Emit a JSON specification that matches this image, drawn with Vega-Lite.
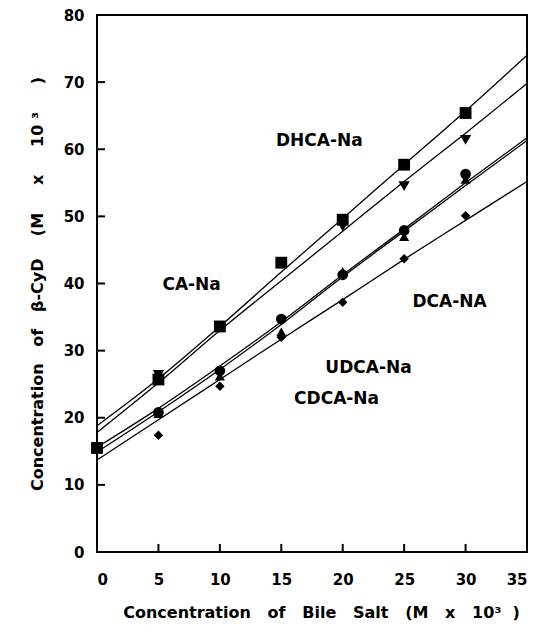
{
  "$schema": "https://vega.github.io/schema/vega-lite/v6.json",
  "width": 430,
  "height": 537,
  "autosize": "none",
  "padding": {"left": 97, "top": 15, "right": 13, "bottom": 89},
  "background": "white",
  "config": {
    "view": {"stroke": "black", "strokeWidth": 2},
    "font": "DejaVu Sans",
    "axis": {
      "grid": false,
      "domain": false,
      "tickColor": "black",
      "tickWidth": 1.5,
      "labelColor": "black",
      "labelFont": "DejaVu Sans",
      "labelFontWeight": "bold",
      "labelFontSize": 15,
      "titleColor": "black",
      "titleFont": "DejaVu Sans",
      "titleFontWeight": "bold",
      "titleFontSize": 16
    }
  },
  "datasets": {
    "points": [
      {"series": "DHCA-Na", "x": 0, "y": 15.5},
      {"series": "DHCA-Na", "x": 5, "y": 25.7},
      {"series": "DHCA-Na", "x": 10, "y": 33.6},
      {"series": "DHCA-Na", "x": 15, "y": 43.1},
      {"series": "DHCA-Na", "x": 20, "y": 49.5},
      {"series": "DHCA-Na", "x": 25, "y": 57.7},
      {"series": "DHCA-Na", "x": 30, "y": 65.4},
      {"series": "CA-Na", "x": 5, "y": 26.4},
      {"series": "CA-Na", "x": 10, "y": 33.4},
      {"series": "CA-Na", "x": 20, "y": 48.5},
      {"series": "CA-Na", "x": 25, "y": 54.5},
      {"series": "CA-Na", "x": 30, "y": 61.4},
      {"series": "UDCA-Na", "x": 5, "y": 20.8},
      {"series": "UDCA-Na", "x": 10, "y": 27.0},
      {"series": "UDCA-Na", "x": 15, "y": 34.7},
      {"series": "UDCA-Na", "x": 20, "y": 41.3},
      {"series": "UDCA-Na", "x": 25, "y": 47.9},
      {"series": "UDCA-Na", "x": 30, "y": 56.3},
      {"series": "CDCA-Na", "x": 5, "y": 20.6},
      {"series": "CDCA-Na", "x": 10, "y": 26.2},
      {"series": "CDCA-Na", "x": 15, "y": 32.8},
      {"series": "CDCA-Na", "x": 20, "y": 41.8},
      {"series": "CDCA-Na", "x": 25, "y": 47.0},
      {"series": "CDCA-Na", "x": 30, "y": 55.5},
      {"series": "DCA-NA", "x": 5, "y": 17.4},
      {"series": "DCA-NA", "x": 10, "y": 24.7},
      {"series": "DCA-NA", "x": 15, "y": 32.0},
      {"series": "DCA-NA", "x": 20, "y": 37.2},
      {"series": "DCA-NA", "x": 25, "y": 43.7},
      {"series": "DCA-NA", "x": 30, "y": 50.1}
    ],
    "lines": [
      {"series": "DHCA-Na", "x": 0, "y": 18.8},
      {"series": "DHCA-Na", "x": 5, "y": 25.8},
      {"series": "DHCA-Na", "x": 10, "y": 33.6},
      {"series": "DHCA-Na", "x": 15, "y": 41.7},
      {"series": "DHCA-Na", "x": 20, "y": 49.7},
      {"series": "DHCA-Na", "x": 25, "y": 57.7},
      {"series": "DHCA-Na", "x": 30, "y": 65.7},
      {"series": "DHCA-Na", "x": 35, "y": 74.0},
      {"series": "CA-Na", "x": 0, "y": 17.8},
      {"series": "CA-Na", "x": 5, "y": 25.2},
      {"series": "CA-Na", "x": 10, "y": 33.0},
      {"series": "CA-Na", "x": 15, "y": 40.4},
      {"series": "CA-Na", "x": 20, "y": 47.8},
      {"series": "CA-Na", "x": 25, "y": 55.2},
      {"series": "CA-Na", "x": 30, "y": 62.4},
      {"series": "CA-Na", "x": 35, "y": 69.8},
      {"series": "UDCA-Na", "x": 0, "y": 15.6},
      {"series": "UDCA-Na", "x": 5, "y": 21.4},
      {"series": "UDCA-Na", "x": 10, "y": 27.7},
      {"series": "UDCA-Na", "x": 15, "y": 34.3},
      {"series": "UDCA-Na", "x": 20, "y": 41.3},
      {"series": "UDCA-Na", "x": 25, "y": 48.1},
      {"series": "UDCA-Na", "x": 30, "y": 55.0},
      {"series": "UDCA-Na", "x": 35, "y": 61.7},
      {"series": "CDCA-Na", "x": 0, "y": 14.9},
      {"series": "CDCA-Na", "x": 5, "y": 20.9},
      {"series": "CDCA-Na", "x": 10, "y": 27.2},
      {"series": "CDCA-Na", "x": 15, "y": 33.9},
      {"series": "CDCA-Na", "x": 20, "y": 41.0},
      {"series": "CDCA-Na", "x": 25, "y": 47.8},
      {"series": "CDCA-Na", "x": 30, "y": 54.6},
      {"series": "CDCA-Na", "x": 35, "y": 61.3},
      {"series": "DCA-NA", "x": 0, "y": 13.7},
      {"series": "DCA-NA", "x": 5, "y": 19.7},
      {"series": "DCA-NA", "x": 10, "y": 25.7},
      {"series": "DCA-NA", "x": 15, "y": 31.7},
      {"series": "DCA-NA", "x": 20, "y": 37.6},
      {"series": "DCA-NA", "x": 25, "y": 43.6},
      {"series": "DCA-NA", "x": 30, "y": 49.4},
      {"series": "DCA-NA", "x": 35, "y": 55.2}
    ],
    "labels": [
      {"label": "DHCA-Na", "x": 18.1, "y": 61.2},
      {"label": "CA-Na", "x": 7.7, "y": 39.8},
      {"label": "DCA-NA", "x": 28.7, "y": 37.3},
      {"label": "UDCA-Na", "x": 22.1, "y": 27.4},
      {"label": "CDCA-Na", "x": 19.5, "y": 22.8}
    ],
    "xticks": [{"v": 5}, {"v": 10}, {"v": 15}, {"v": 20}, {"v": 25}, {"v": 30}],
    "yticks": [{"v": 10}, {"v": 20}, {"v": 30}, {"v": 40}, {"v": 50}, {"v": 60}, {"v": 70}]
  },
  "resolve": {"axis": {"x": "independent", "y": "independent"}},
  "layer": [
    {
      "data": {"name": "lines"},
      "mark": {"type": "line", "color": "black", "strokeWidth": 1.3, "interpolate": "monotone"},
      "encoding": {
        "x": {
          "field": "x", "type": "quantitative",
          "scale": {"domain": [0, 35], "nice": false},
          "axis": {"orient": "bottom", "values": [0, 5, 10, 15, 20, 25, 30, 35], "tickSize": 0, "labelPadding": 20, "title": "Concentration\u00a0\u00a0\u00a0of\u00a0\u00a0\u00a0Bile\u00a0\u00a0\u00a0Salt\u00a0\u00a0\u00a0(M\u00a0\u00a0\u00a0x\u00a0\u00a0\u00a010³\u00a0\u00a0)", "titlePadding": 17, "titleX": 224}
        },
        "y": {
          "field": "y", "type": "quantitative",
          "scale": {"domain": [0, 80], "nice": false},
          "axis": {"orient": "left", "values": [0, 10, 20, 30, 40, 50, 60, 70, 80], "tickSize": 0, "labelPadding": 13, "title": "Concentration\u00a0\u00a0\u00a0of\u00a0\u00a0\u00a0β-CyD\u00a0\u00a0\u00a0\u00a0(M\u00a0\u00a0\u00a0\u00a0\u00a0x\u00a0\u00a0\u00a0\u00a0\u00a010\u00a0³\u00a0\u00a0\u00a0\u00a0\u00a0)", "titlePadding": 18}
        },
        "detail": {"field": "series"}
      }
    },
    {
      "data": {"name": "xticks"},
      "mark": {"type": "rule", "color": "black", "strokeWidth": 2},
      "encoding": {
        "x": {"field": "v", "type": "quantitative", "axis": null},
        "y": {"datum": 0, "type": "quantitative", "axis": null},
        "y2": {"datum": 1.2}
      }
    },
    {
      "data": {"name": "yticks"},
      "mark": {"type": "rule", "color": "black", "strokeWidth": 2},
      "encoding": {
        "y": {"field": "v", "type": "quantitative", "axis": null},
        "x": {"datum": 0, "type": "quantitative", "axis": null},
        "x2": {"datum": 0.65}
      }
    },
    {
      "data": {"name": "points"},
      "mark": {"type": "point", "filled": true, "color": "black", "opacity": 1},
      "encoding": {
        "x": {"field": "x", "type": "quantitative", "axis": null},
        "y": {"field": "y", "type": "quantitative", "axis": null},
        "shape": {
          "field": "series", "type": "nominal",
          "scale": {"domain": ["DHCA-Na", "CA-Na", "UDCA-Na", "CDCA-Na", "DCA-NA"], "range": ["square", "triangle-down", "circle", "triangle-up", "diamond"]},
          "legend": null
        },
        "size": {
          "field": "series", "type": "nominal",
          "scale": {"domain": ["DHCA-Na", "CA-Na", "UDCA-Na", "CDCA-Na", "DCA-NA"], "range": [140, 90, 110, 80, 90]},
          "legend": null
        }
      }
    },
    {
      "data": {"name": "labels"},
      "mark": {"type": "text", "font": "DejaVu Sans", "fontWeight": "bold", "fontSize": 17, "color": "black"},
      "encoding": {
        "x": {"field": "x", "type": "quantitative", "axis": null},
        "y": {"field": "y", "type": "quantitative", "axis": null},
        "text": {"field": "label"}
      }
    }
  ]
}
